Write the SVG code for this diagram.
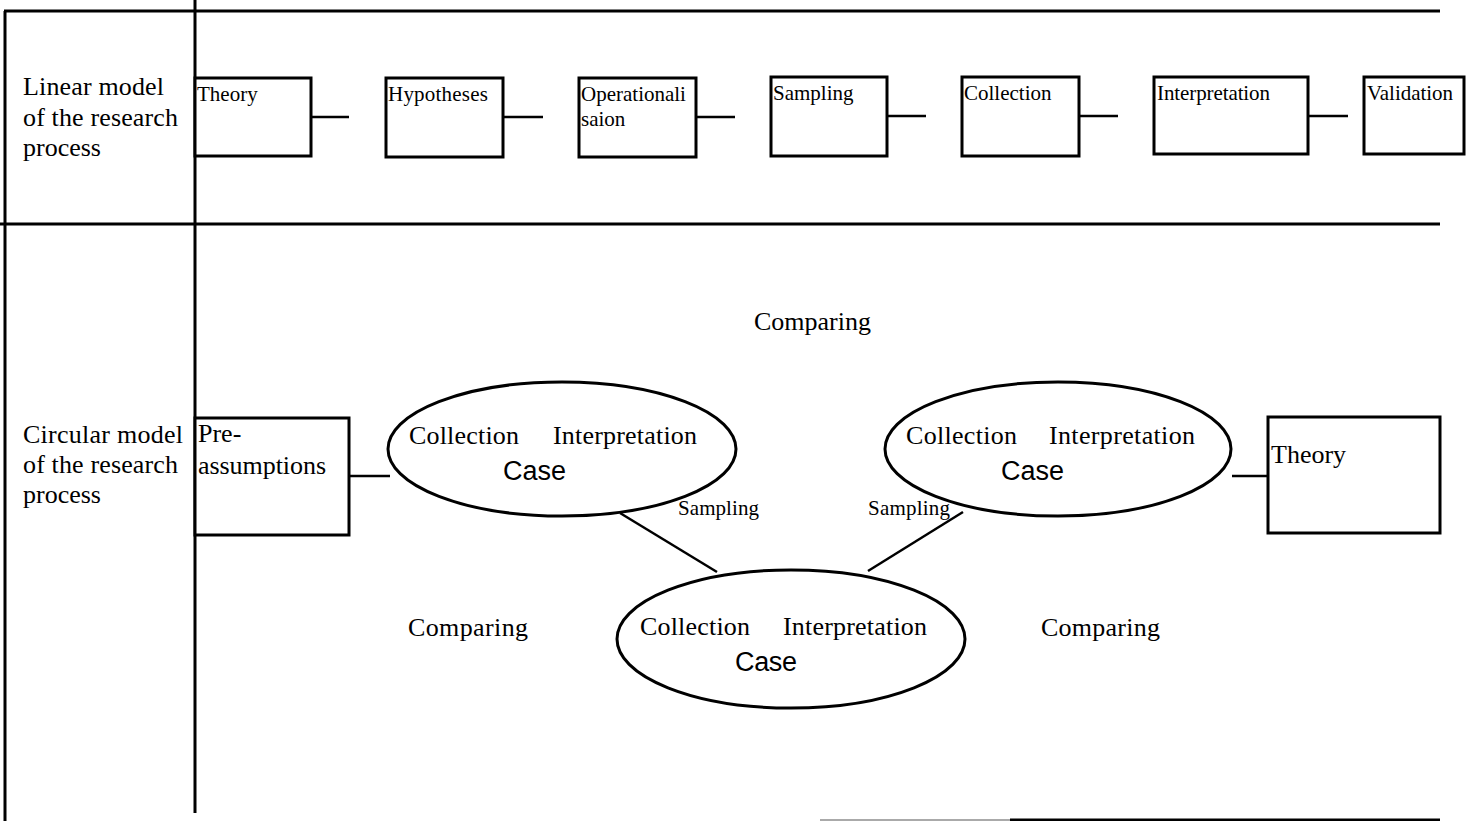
<svg xmlns="http://www.w3.org/2000/svg" width="1469" height="821" viewBox="0 0 1469 821">
<style>
.frame{stroke:#000;stroke-width:3;fill:none}
.box{fill:#fff;stroke:#000;stroke-width:3}
.ell{fill:#fff;stroke:#000;stroke-width:3}
.conn{stroke:#000;stroke-width:2.5;fill:none}
.lbl{font-family:"Liberation Serif","Times New Roman",serif;font-size:26px;fill:#000}
.bt{font-family:"Liberation Serif","Times New Roman",serif;font-size:21px;fill:#000}
.case{font-family:"Liberation Sans",Arial,sans-serif;font-size:27px;fill:#000}
.smp{font-family:"Liberation Serif","Times New Roman",serif;font-size:21px;fill:#000}
</style>
<rect width="1469" height="821" fill="#fff"/>
<g id="frame">
<line class="frame" x1="4" y1="11" x2="1440" y2="11"/>
<line class="frame" x1="5" y1="11" x2="5" y2="821"/>
<line class="frame" x1="195" y1="0" x2="195" y2="813"/>
<line class="frame" x1="0" y1="224" x2="1440" y2="224"/>
<line x1="820" y1="820" x2="1010" y2="820" stroke="#aaa" stroke-width="2"/>
<line class="frame" x1="1010" y1="820" x2="1440" y2="820"/>
</g>
<g id="row-labels">
<text class="lbl" x="23" y="95" textLength="141">Linear model</text>
<text class="lbl" x="23" y="126" textLength="155">of the research</text>
<text class="lbl" x="23" y="156">process</text>
<text class="lbl" x="23" y="443" textLength="160">Circular model</text>
<text class="lbl" x="23" y="473" textLength="155">of the research</text>
<text class="lbl" x="23" y="503">process</text>
</g>
<g id="connectors">
<line class="conn" x1="311" y1="117" x2="349" y2="117"/>
<line class="conn" x1="503" y1="117" x2="543" y2="117"/>
<line class="conn" x1="696" y1="117" x2="735" y2="117"/>
<line class="conn" x1="887" y1="116" x2="926" y2="116"/>
<line class="conn" x1="1079" y1="116" x2="1118" y2="116"/>
<line class="conn" x1="1308" y1="116" x2="1348" y2="116"/>
<line class="conn" x1="349" y1="476" x2="390" y2="476"/>
<line class="conn" x1="1232" y1="476" x2="1268" y2="476"/>
<line class="conn" x1="620" y1="513" x2="717" y2="572"/>
<line class="conn" x1="963" y1="512" x2="868" y2="571"/>
</g>
<g id="n-theory"><rect class="box" x="195" y="78" width="116" height="78"/><text class="bt" x="197" y="101">Theory</text></g>
<g id="n-hypotheses"><rect class="box" x="386" y="78" width="117" height="79"/><text class="bt" x="388" y="101" textLength="100">Hypotheses</text></g>
<g id="n-operationalisaion"><rect class="box" x="579" y="78" width="117" height="79"/><text class="bt" x="581" y="101">Operationali</text><text class="bt" x="581" y="126">saion</text></g>
<g id="n-sampling"><rect class="box" x="771" y="77" width="116" height="79"/><text class="bt" x="773" y="100">Sampling</text></g>
<g id="n-collection"><rect class="box" x="962" y="77" width="117" height="79"/><text class="bt" x="964" y="100">Collection</text></g>
<g id="n-interpretation"><rect class="box" x="1154" y="77" width="154" height="77"/><text class="bt" x="1157" y="100" textLength="113">Interpretation</text></g>
<g id="n-validation"><rect class="box" x="1364" y="77" width="100" height="77"/><text class="bt" x="1367" y="100" textLength="86">Validation</text></g>
<g id="n-presumptions"><rect class="box" x="195" y="418" width="154" height="117"/><text class="lbl" x="198" y="442">Pre-</text><text class="lbl" x="198" y="474" textLength="128">assumptions</text></g>
<g id="n-theory2"><rect class="box" x="1268" y="417" width="172" height="116"/><text class="lbl" x="1271" y="463">Theory</text></g>
<g id="n-case1"><ellipse class="ell" cx="562" cy="449" rx="174" ry="67"/><text class="lbl" x="409" y="444" textLength="110">Collection</text><text class="lbl" x="553" y="444" textLength="144">Interpretation</text><text class="case" x="503" y="480" textLength="63">Case</text></g>
<g id="n-case2"><ellipse class="ell" cx="1058" cy="449" rx="173" ry="67"/><text class="lbl" x="906" y="444" textLength="111">Collection</text><text class="lbl" x="1049" y="444" textLength="146">Interpretation</text><text class="case" x="1001" y="480" textLength="63">Case</text></g>
<g id="n-case3"><ellipse class="ell" cx="791" cy="639" rx="174" ry="69"/><text class="lbl" x="640" y="635" textLength="110">Collection</text><text class="lbl" x="783" y="635" textLength="144">Interpretation</text><text class="case" x="735" y="671" textLength="62">Case</text></g>
<g id="labels">
<text class="lbl" x="754" y="330" textLength="117">Comparing</text>
<text class="lbl" x="408" y="636" textLength="120">Comparing</text>
<text class="lbl" x="1041" y="636" textLength="119">Comparing</text>
<text class="smp" x="678" y="515" textLength="81">Sampling</text>
<text class="smp" x="868" y="515" textLength="82">Sampling</text>
</g>
</svg>
